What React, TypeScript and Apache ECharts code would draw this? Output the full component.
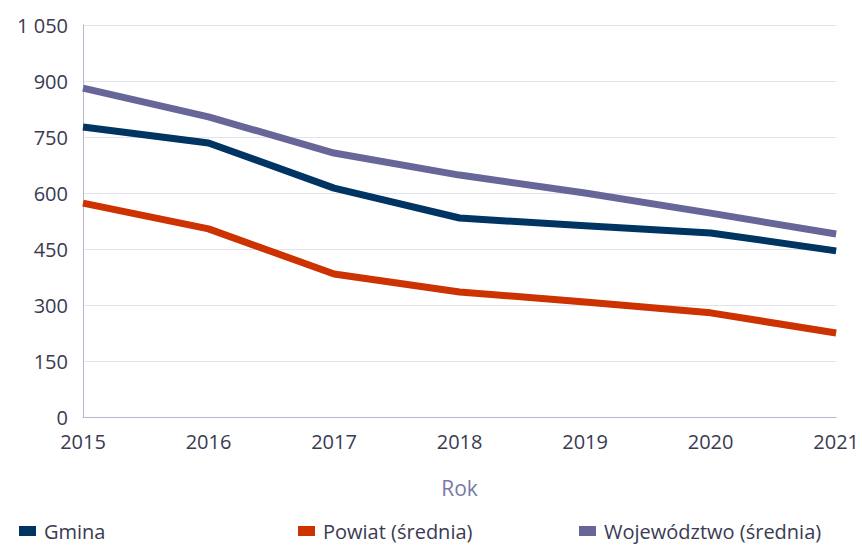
import React, { useEffect, useRef } from "react";
import * as echarts from "echarts";

const years = ["2015", "2016", "2017", "2018", "2019", "2020", "2021"];
const gmina = [777, 734, 613, 533, 512, 493, 445];
const powiat = [573, 504, 383, 335, 308, 279, 225];
const wojewodztwo = [881, 804, 707, 648, 600, 546, 490];

const names = ["Gmina", "Powiat (średnia)", "Województwo (średnia)"];
const colors = ["#003462", "#cc3300", "#676699"];

export default function App() {
  const ref = useRef<HTMLDivElement>(null);
  useEffect(() => {
    const chart = echarts.init(ref.current!, null, { renderer: "svg" });
    const font = "'Open Sans', 'Noto Sans', sans-serif";
    const legendLefts = [19, 298, 579];
    chart.setOption({
      animation: false,
      textStyle: { fontFamily: font },
      grid: { left: 83, right: 25, top: 25, bottom: 129 },
      legend: names.map((n, i) => ({
        data: [n],
        left: legendLefts[i],
        top: 520,
        padding: 0,
        icon: "rect",
        itemWidth: 17,
        itemHeight: 10,
        itemGap: 10,
        textStyle: { color: "#3a3a52", fontSize: 20, lineHeight: 22, fontFamily: font, padding: [0, 0, 0, 3] },
      })),
      xAxis: {
        type: "category",
        data: years,
        boundaryGap: false,
        name: "Rok",
        nameLocation: "middle",
        nameGap: 60,
        nameTextStyle: { color: "#7a7aa8", fontSize: 21, fontFamily: font },
        axisLine: { show: true, lineStyle: { color: "#b8b8cc", width: 1 } },
        axisTick: { show: false },
        axisLabel: { color: "#3a3a52", fontSize: 20, lineHeight: 18, margin: 15, fontFamily: font },
      },
      yAxis: {
        type: "value",
        min: 0,
        max: 1050,
        interval: 150,
        axisLine: { show: true, lineStyle: { color: "#b8b8cc", width: 1 } },
        axisTick: { show: false },
        splitLine: { lineStyle: { color: "#e2e2ec", width: 1 } },
        axisLabel: {
          color: "#3a3a52",
          fontSize: 20,
          lineHeight: 18,
          margin: 15,
          fontFamily: font,
          formatter: (v: number) => String(v).replace(/\B(?=(\d{3})+(?!\d))/g, " "),
        },
      },
      series: [gmina, powiat, wojewodztwo].map((d, i) => ({
        name: names[i],
        type: "line",
        data: d,
        symbol: "none",
        color: colors[i],
        lineStyle: { width: 7, color: colors[i], cap: "butt", join: "round" },
      })),
    });
    return () => chart.dispose();
  }, []);
  return <div ref={ref} style={{ width: 862, height: 546, position: "absolute", left: 0, top: 0 }} />;
}
